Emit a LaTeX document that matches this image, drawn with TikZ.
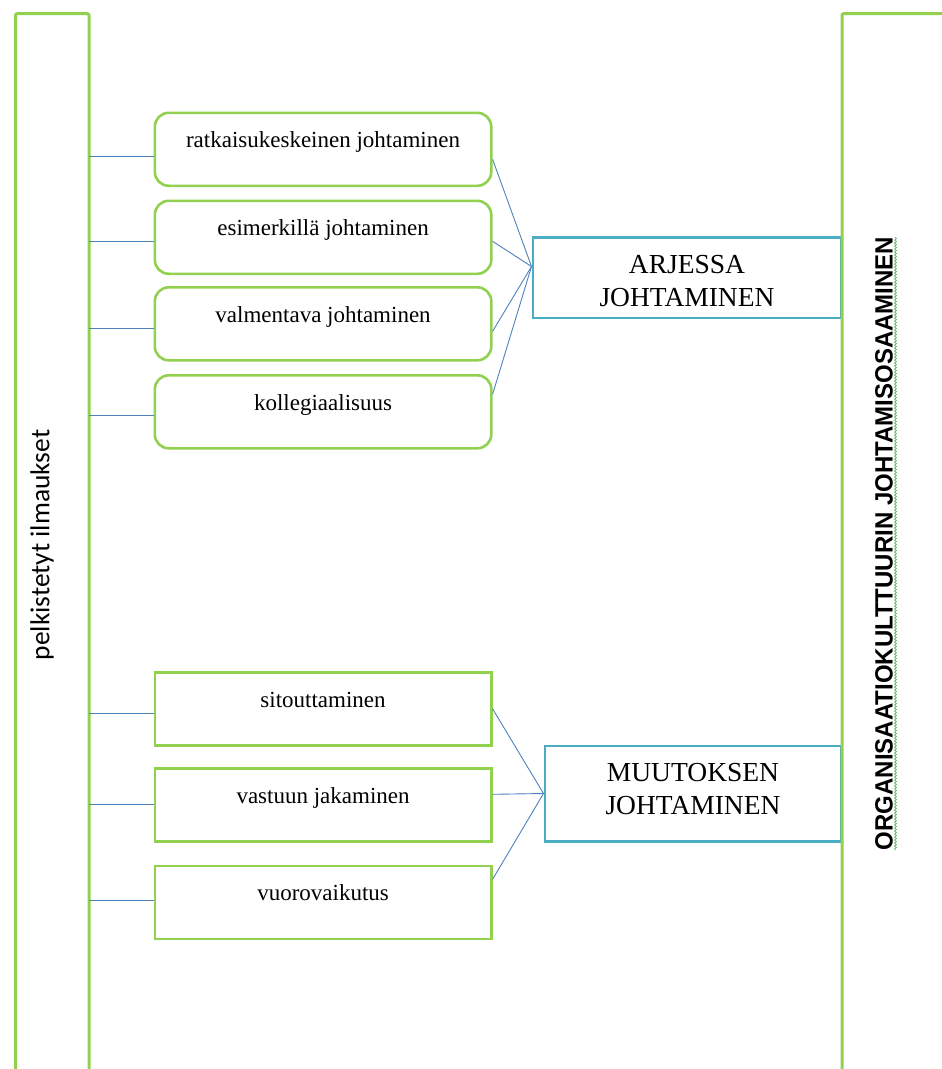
\documentclass[tikz,border=0pt]{standalone}
\usepackage{fontspec}
\setmainfont{Liberation Serif}
\newfontfamily\labelsans{Carlito}
\newfontfamily\headsans{Liberation Sans}
\usetikzlibrary{decorations.pathmorphing}
\definecolor{frameGreen}{HTML}{92D050}
\definecolor{boxBlue}{HTML}{4BACC6}
\definecolor{linkBlue}{HTML}{4F81BD}
\definecolor{spellGreen}{HTML}{5CB85C}

\begin{document}
\begin{tikzpicture}[x=1pt,y=-1pt,
  frame/.style={draw=frameGreen, line width=3pt, rounded corners=2pt},
  item/.style={draw=frameGreen, line width=2.6pt, fill=white, anchor=north west,
    minimum width=336.5pt, inner sep=0pt, text height=35pt, text depth=38pt,
    font=\fontsize{23}{27}\selectfont},
  roundItem/.style={item, rounded corners=14pt},
  squareItem/.style={item},
  hub/.style={draw=boxBlue, line width=2.5pt, fill=white, anchor=north west, inner sep=0pt},
  hubText/.style={align=center, font=\fontsize{27.5}{33}\selectfont},
  link/.style={draw=linkBlue, line width=0.9pt}]

\useasboundingbox (0,0) rectangle (942,1069);

% left frame (open at the bottom)
\coordinate (leftEdge) at (89,0);
\draw[frame] (15.5,1080) -- (15.5,13.5) -- (89,13.5) -- (89,1080);

\node[rotate=90, font=\labelsans\fontsize{27.4}{30}\selectfont] (leftTitle) at (42,545) {pelkistetyt ilmaukset};
\node[rotate=90, font=\headsans\bfseries\fontsize{25}{30}\selectfont] (rightTitle) at (884,543.5)
  {\scalebox{0.96}[1]{ORGANISAATIOKULTTUURIN JOHTAMISOSAAMINEN}};
\draw[spellGreen, line width=0.7pt, decorate, decoration={snake, amplitude=1pt, segment length=3pt}]
  (895.5,850) -- (895.5,237);

% leadership-in-everyday group
\node[roundItem] (b1) at (153.5,111.5) {ratkaisukeskeinen johtaminen};
\node[roundItem] (b2) at (153.5,199.5) {esimerkillä johtaminen};
\node[roundItem] (b3) at (153.5,286) {valmentava johtaminen};
\node[roundItem] (b4) at (153.5,374) {kollegiaalisuus};

% change-leadership group
\node[squareItem] (b5) at (153.5,671) {sitouttaminen};
\node[squareItem] (b6) at (153.5,767) {vastuun jakaminen};
\node[squareItem] (b7) at (153.5,864.5) {vuorovaikutus};

% summary boxes
\node[hub, minimum width=308.5pt, minimum height=80.5pt] (arj) at (531.5,236) {};
\node[hubText] (arjText) at ([yshift=-4pt]arj.center) {ARJESSA\\JOHTAMINEN};
\node[hub, minimum width=296.5pt, minimum height=95.5pt] (muu) at (543.5,744.5) {};
\node[hubText] (muuText) at ([yshift=4pt]muu.center) {MUUTOKSEN\\JOHTAMINEN};

% right frame (open at the bottom and right), over the summary boxes
\draw[frame] (842,1080) -- (842,13.5) -- (960,13.5);

% links from the left frame
\draw[link] ([yshift=-7pt]b1.west) -- ([yshift=-7pt]b1.west -| leftEdge);
\draw[link] ([yshift=-4pt]b2.west) -- ([yshift=-4pt]b2.west -| leftEdge);
\draw[link] ([yshift=-4.5pt]b3.west) -- ([yshift=-4.5pt]b3.west -| leftEdge);
\draw[link] ([yshift=-3.5pt]b4.west) -- ([yshift=-3.5pt]b4.west -| leftEdge);
\draw[link] ([yshift=-4.5pt]b5.west) -- ([yshift=-4.5pt]b5.west -| leftEdge);
\draw[link] (b6.west) -- (b6.west -| leftEdge);
\draw[link] ([yshift=2pt]b7.west) -- ([yshift=2pt]b7.west -| leftEdge);

% links into the summary boxes
\coordinate (arjIn) at ([yshift=11pt]arj.west);
\draw[link] ([yshift=-10pt]b1.east) -- (arjIn);
\draw[link] ([yshift=-4pt]b2.east) -- (arjIn);
\draw[link] ([yshift=-7.5pt]b3.east) -- (arjIn);
\draw[link] ([yshift=17.5pt]b4.east) -- (arjIn);

\coordinate (muuIn) at (muu.west);
\draw[link] (b5.east) -- (muuIn);
\draw[link] ([yshift=10.5pt]b6.east) -- (muuIn);
\draw[link] ([yshift=23pt]b7.east) -- (muuIn);
\end{tikzpicture}
\end{document}
